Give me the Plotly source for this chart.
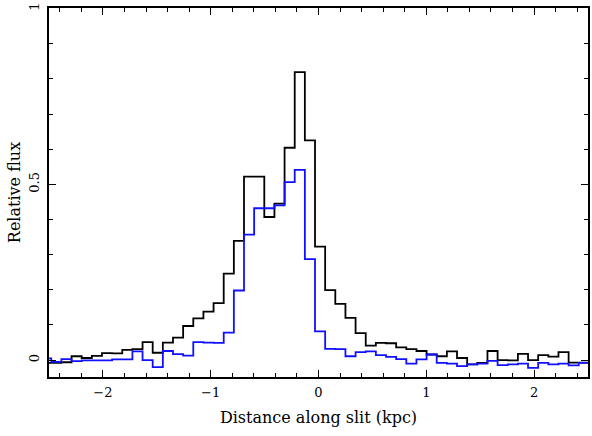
import numpy as np
import plotly.graph_objects as go

# Binning along the slit (kpc)
x_min, x_max = -2.5, 2.5
first_edge = -2.479
bin_width = 0.0941

# Relative flux per bin (first value is the partial bin at the left border)
black_flux = [-0.008, -0.008, -0.006, 0.011, 0.006, 0.012, 0.020, 0.019, 0.029, 0.031,
              0.051, 0.021, 0.050, 0.064, 0.097, 0.119, 0.138, 0.162, 0.246, 0.339,
              0.522, 0.522, 0.407, 0.445, 0.604, 0.819, 0.625, 0.323, 0.199, 0.160,
              0.120, 0.077, 0.041, 0.049, 0.048, 0.036, 0.031, 0.026, 0.016, 0.011,
              0.025, 0.006, -0.012, -0.008, 0.026, 0.000, -0.001, 0.018, 0.000, 0.014,
              0.010, 0.023, -0.007, -0.007]
blue_flux = [0.005, -0.005, 0.003, -0.003, -0.001, -0.001, -0.001, 0.002, 0.002, 0.025,
             0.000, -0.020, 0.026, 0.017, 0.013, 0.051, 0.050, 0.049, 0.078, 0.198,
             0.357, 0.432, 0.432, 0.440, 0.506, 0.541, 0.287, 0.082, 0.032, 0.031,
             0.011, 0.023, 0.025, 0.014, 0.009, 0.003, -0.010, 0.002, 0.016, -0.008,
             -0.010, -0.017, -0.012, -0.010, -0.002, -0.014, -0.012, -0.010, -0.022, -0.008,
             -0.012, -0.010, -0.015, -0.008]

y_tickvals = [0, 0.5, 1]
y_ticktext = ["0", "0.5", "1"]
x_tickvals = [-2, -1, 0, 1, 2]

n = len(black_flux)
edges = [x_min] + list(first_edge + bin_width * np.arange(n - 1)) + [x_max]

def step_xy(vals):
    return edges, list(vals) + [vals[-1]]

fig = go.Figure()
bx, by = step_xy(black_flux)
ux, uy = step_xy(blue_flux)
fig.add_trace(go.Scatter(x=bx, y=by, mode="lines", line=dict(color="black", width=1.8, shape="hv"),
                         showlegend=False, hoverinfo="skip"))
fig.add_trace(go.Scatter(x=ux, y=uy, mode="lines", line=dict(color="#1010ff", width=1.8, shape="hv"),
                         showlegend=False, hoverinfo="skip"))

font = dict(family="DejaVu Serif", size=13, color="black")
fig.update_layout(
    width=592, height=436,
    margin=dict(l=49, r=2, t=6, b=59),
    paper_bgcolor="white", plot_bgcolor="white",
    font=font,
    xaxis=dict(range=[x_min, x_max], tickvals=x_tickvals, ticks="inside", ticklen=7, tickwidth=1,
               tickcolor="black", showline=True, linecolor="black", linewidth=1.5, mirror="allticks",
               showgrid=False, zeroline=False,
               minor=dict(dtick=0.2, tick0=0, ticks="inside", ticklen=4, tickcolor="black", showgrid=False),
               title=dict(text="Distance along slit (kpc)", standoff=12), ticklabelstandoff=3),
    yaxis=dict(range=[-0.048, 1.0015], tickvals=y_tickvals, ticktext=y_ticktext, tickangle=-90,
               ticks="inside", ticklen=7, tickwidth=1, tickcolor="black",
               showline=True, linecolor="black", linewidth=1.5, mirror="allticks",
               showgrid=False, zeroline=False,
               minor=dict(dtick=0.1, tick0=0, ticks="inside", ticklen=4, tickcolor="black", showgrid=False),
               title=dict(text="Relative flux", standoff=2), ticklabelstandoff=3),
)
fig.write_html("out.html")
